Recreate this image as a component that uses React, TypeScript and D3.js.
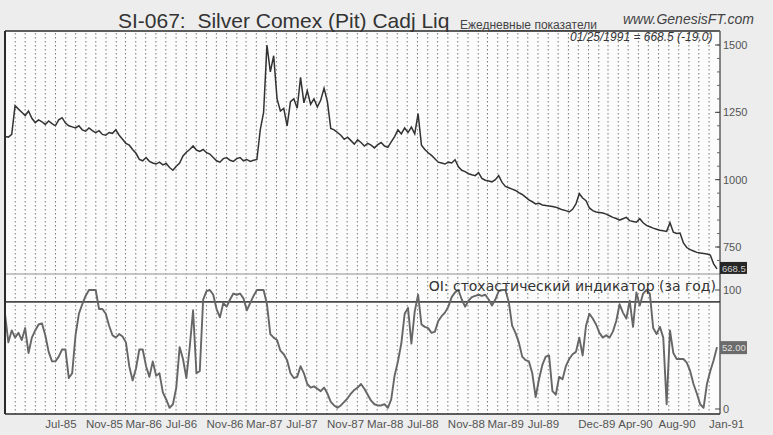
import React from "react";
import * as d3 from "d3";

// Daily silver continuation (sampled every third of a month), Mar-1985 .. 25-Jan-1991
const priceValues: number[] = [
  1160, 1158, 1168, 1275, 1262, 1250, 1238, 1255, 1228, 1212,
  1222, 1215, 1205, 1218, 1208, 1200, 1222, 1230, 1210, 1200,
  1196, 1192, 1200, 1185, 1180, 1192, 1182, 1175, 1182, 1168,
  1165, 1175, 1172, 1185, 1165, 1150, 1135, 1128, 1112, 1098,
  1075, 1070, 1082, 1068, 1062, 1058, 1065, 1055, 1060, 1045,
  1035, 1050, 1062, 1088, 1102, 1112, 1125, 1110, 1105, 1112,
  1100, 1095, 1082, 1070, 1065, 1078, 1082, 1072, 1068, 1078,
  1082, 1070, 1075, 1068, 1072, 1075, 1185, 1250, 1500, 1400,
  1460, 1300, 1255, 1265, 1200, 1290, 1300, 1265, 1380, 1285,
  1330, 1280, 1300, 1270, 1295, 1340, 1290, 1190, 1185, 1175,
  1165, 1150, 1158, 1145, 1132, 1148, 1138, 1125, 1135, 1128,
  1118, 1130, 1138, 1125, 1120, 1140, 1160, 1185, 1170, 1192,
  1175, 1195, 1170, 1245, 1128, 1112, 1100, 1090, 1078, 1065,
  1062, 1058, 1065, 1062, 1074, 1048, 1035, 1030, 1022, 1018,
  1015, 1026, 1005, 998, 995, 992, 1000, 1015, 990, 975,
  970, 965, 960, 952, 945, 935, 925, 918, 910, 912,
  906, 904, 902, 900, 898, 893, 888, 885, 880, 890,
  910, 948, 932, 922, 895, 885, 880, 878, 876, 872,
  866, 860, 856, 850, 855, 860, 848, 845, 842, 855,
  840, 830, 825, 820, 816, 812, 810, 808, 840, 805,
  800, 802, 765, 748, 740, 735, 730, 728, 726, 724,
  720, 687.5, 668.5,
];

// Open-interest stochastic (one-year window), same sampling
const oscValues: number[] = [
  80, 56, 66, 60, 64, 58, 68, 47, 60, 66,
  71, 72, 62, 48, 40, 40, 44, 50, 50, 26,
  30, 62, 80, 88, 95, 100, 100, 100, 84, 84,
  80, 70, 62, 60, 63, 61, 56, 36, 24, 34,
  50, 50, 36, 27, 40, 28, 30, 14, 8, 1,
  4, 18, 52, 42, 26, 52, 83, 30, 32, 92,
  99, 100, 96, 84, 77, 89, 86, 92, 97, 96,
  97, 93, 83, 89, 95, 100, 100, 100, 88, 63,
  60, 58, 49, 46, 41, 30, 26, 27, 36, 30,
  21, 18, 19, 17, 15, 18, 13, 6, 3, 1,
  3, 6, 9, 13, 16, 18, 21, 17, 12, 7,
  4, 3, 3, 4, 1, 8, 28, 40, 55, 80,
  85, 55, 82, 96, 71, 69, 68, 64, 65, 74,
  78, 81, 86, 94, 98, 100, 92, 86, 91, 94,
  95, 96, 95, 96, 92, 87, 92, 99, 100, 100,
  90, 70, 64, 56, 44, 41, 40, 30, 10, 25,
  37, 44, 45, 15, 12, 27, 25, 36, 42, 46,
  48, 60, 45, 70, 80, 76, 71, 64, 60, 62,
  60, 65, 74, 88, 81, 76, 91, 69, 98, 87,
  97, 100, 97, 68, 63, 69, 60, 4, 66, 47,
  42, 42, 42, 39, 32, 21, 13, 4, 1, 21,
  32, 41, 52,
];

const priceTicks = [1500, 1250, 1000, 750];
const oscTicks = [100, 0];
const oscLevel = 90;
const monthLabels = [
  "1985-07-01", "1985-11-01", "1986-03-01", "1986-07-01", "1986-11-01",
  "1987-03-01", "1987-07-01", "1987-11-01", "1988-03-01", "1988-07-01",
  "1988-11-01", "1989-03-01", "1989-07-01", "1989-12-01", "1990-04-01",
  "1990-08-01", "1991-01-01",
];

const startDate = new Date(1985, 2, 1);
const endDate = new Date(1991, 0, 25);
const lastPrice = priceValues[priceValues.length - 1];
const prevPrice = priceValues[priceValues.length - 2];
const lastOsc = oscValues[oscValues.length - 1];

const W = 773;
const H = 435;
const L = 5;
const R = 720;
const TOP = 31;
const SPLIT = 274;
const BOTTOM = 414;
const SANS = "'Liberation Sans', Arial, sans-serif";

export default function App() {
  const n = priceValues.length;
  const step = (endDate.getTime() - startDate.getTime()) / (n - 1);
  const dates = priceValues.map((_, i) => new Date(startDate.getTime() + i * step));

  const x = d3.scaleTime().domain([startDate, endDate]).range([L, 717]);
  const yP = d3.scaleLinear().domain([750, 1500]).range([247, 45]);
  const yO = d3.scaleLinear().domain([0, 100]).range([409, 290]);

  const priceLine = d3
    .line<number>()
    .x((_, i) => x(dates[i]))
    .y((d) => yP(d));
  const oscLine = d3
    .line<number>()
    .x((_, i) => x(dates[i]))
    .y((d) => yO(d));

  const months = d3.timeMonth.range(d3.timeMonth.ceil(startDate), endDate);
  const fmt = d3.timeFormat("%b-%y");
  const minor = d3.range(700, 1551, 50);

  return (
    <svg
      width={W}
      height={H}
      style={{ position: "absolute", left: 0, top: 0, background: "#ededed" }}
      fontFamily={SANS}
    >
      <defs>
        <clipPath id="upper">
          <rect x={L} y={TOP} width={R - L} height={SPLIT - TOP} />
        </clipPath>
        <clipPath id="lower">
          <rect x={L} y={SPLIT} width={R - L} height={BOTTOM - SPLIT} />
        </clipPath>
      </defs>

      <rect x={0} y={0} width={W} height={H} fill="#ededed" />
      <rect x={L} y={TOP} width={R - L} height={BOTTOM - TOP} fill="#fcfcfc" />

      {/* monthly dotted grid */}
      {months.map((m, i) => (
        <line
          key={i}
          x1={x(m)}
          x2={x(m)}
          y1={TOP + 2}
          y2={BOTTOM}
          stroke="#7a7a7a"
          strokeWidth={1}
          strokeDasharray="1.5,2.5"
        />
      ))}

      {/* panel separator */}
      <line x1={L} x2={R} y1={SPLIT} y2={SPLIT} stroke="#b5b5b5" strokeWidth={1.5} />

      {/* price */}
      <path
        d={priceLine(priceValues) || ""}
        fill="none"
        stroke="#333"
        strokeWidth={1.5}
        clipPath="url(#upper)"
      />

      {/* stochastic */}
      <line x1={L} x2={R} y1={yO(oscLevel)} y2={yO(oscLevel)} stroke="#4a4a4a" strokeWidth={1.8} />
      <path
        d={oscLine(oscValues) || ""}
        fill="none"
        stroke="#666"
        strokeWidth={1.9}
        strokeLinejoin="round"
        clipPath="url(#lower)"
      />
      <text x={716} y={yO(100) + 1} textAnchor="end" fontSize={14} fill="#333" fontFamily="'DejaVu Sans', sans-serif">
        OI: стохастический индикатор (за год)
      </text>

      {/* frame */}
      <line x1={L} x2={L} y1={TOP} y2={BOTTOM} stroke="#2a2a2a" strokeWidth={2} />
      <line x1={L} x2={R} y1={TOP} y2={TOP} stroke="#2a2a2a" strokeWidth={1.5} />
      <line x1={L} x2={R} y1={BOTTOM} y2={BOTTOM} stroke="#2a2a2a" strokeWidth={1.5} />
      <line x1={R} x2={R} y1={TOP} y2={BOTTOM} stroke="#3a3a3a" strokeWidth={1.2} />

      {/* right axis: price */}
      {minor.map((v) =>
        yP(v) > TOP && yP(v) < SPLIT ? (
          <line key={v} x1={R - 3} x2={R} y1={yP(v)} y2={yP(v)} stroke="#666" />
        ) : null
      )}
      {priceTicks.map((v) => (
        <g key={v}>
          <line x1={R - 5} x2={R} y1={yP(v)} y2={yP(v)} stroke="#444" />
          <text x={723} y={yP(v) + 4} fontSize={11} fill="#555">
            {v}
          </text>
        </g>
      ))}
      <rect x={R} y={yP(lastPrice) - 7} width={27} height={12} fill="#262626" />
      <text x={R + 2} y={yP(lastPrice) + 3} fontSize={9.5} fill="#cfcfcf">
        {lastPrice.toFixed(1)}
      </text>

      {/* right axis: stochastic */}
      {oscTicks.map((v) => (
        <g key={v}>
          <line x1={R - 5} x2={R} y1={yO(v)} y2={yO(v)} stroke="#444" />
          <text x={723} y={yO(v) + 4} fontSize={11} fill="#555">
            {v}
          </text>
        </g>
      ))}
      <rect x={R} y={yO(lastOsc) - 6} width={27} height={13} fill="#6b6b6b" />
      <text x={R + 2} y={yO(lastOsc) + 4} fontSize={9.5} fill="#e0e0e0">
        {lastOsc.toFixed(2)}
      </text>

      {/* bottom axis */}
      {monthLabels.map((s) => {
        const d = new Date(s + "T00:00:00");
        return (
          <text key={s} x={x(d)} y={428} fontSize={11.5} fill="#555">
            {fmt(d)}
          </text>
        );
      })}

      {/* header */}
      <text x={118} y={28} fontSize={21} fill="#333" xmlSpace="preserve" style={{ whiteSpace: "pre" }}>
        {"SI-067:  Silver Comex (Pit) Cadj Liq"}
      </text>
      <text x={460} y={29} fontSize={12} fill="#444" textDecoration="underline">
        Ежедневные показатели
      </text>
      <text x={623} y={24} fontSize={14} fill="#444" fontStyle="italic">
        www.GenesisFT.com
      </text>
      <text x={570} y={41} fontSize={12} fill="#333" fontStyle="italic">
        {`${d3.timeFormat("%m/%d/%Y")(endDate)} = ${lastPrice.toFixed(1)} (${(lastPrice - prevPrice).toFixed(1)})`}
      </text>
    </svg>
  );
}
